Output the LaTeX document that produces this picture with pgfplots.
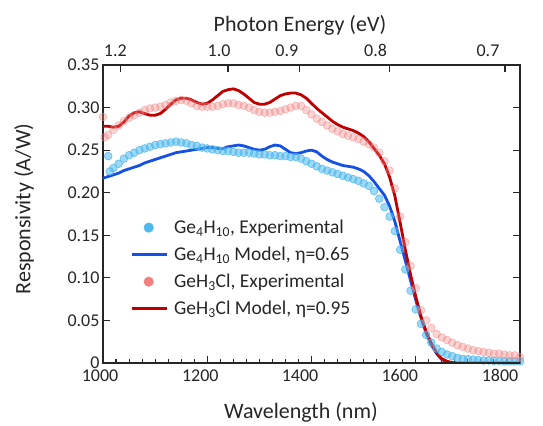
\documentclass[border=0pt]{standalone}
\usepackage{fontspec}
\setmainfont{Carlito}
\usepackage{pgfplots}
\pgfplotsset{compat=1.18}

\definecolor{expblue}{HTML}{4DB8EE}
\definecolor{modblue}{HTML}{1450E6}
\definecolor{exppink}{HTML}{F28080}
\definecolor{modred}{HTML}{C00000}
\definecolor{axisgray}{HTML}{262626}

% Measured responsivity, Ge4H10 sample
\pgfplotstableread{
x y
1010 0.243
1013 0.225
1020 0.229
1030 0.234
1040 0.240
1050 0.244
1060 0.247
1070 0.250
1080 0.252
1090 0.254
1100 0.256
1110 0.257
1120 0.258
1130 0.259
1140 0.260
1150 0.259
1160 0.258
1170 0.256
1180 0.255
1190 0.253
1200 0.252
1210 0.251
1220 0.250
1230 0.249
1240 0.249
1250 0.248
1260 0.247
1270 0.247
1280 0.247
1290 0.246
1300 0.245
1310 0.245
1320 0.244
1330 0.244
1340 0.243
1350 0.243
1360 0.242
1370 0.242
1380 0.240
1390 0.237
1400 0.234
1410 0.231
1420 0.228
1430 0.226
1440 0.224
1450 0.222
1460 0.220
1470 0.218
1480 0.216
1490 0.214
1500 0.211
1510 0.208
1520 0.202
1530 0.193
1540 0.183
1550 0.172
1560 0.155
1570 0.133
1580 0.110
1590 0.085
1600 0.063
1610 0.046
1620 0.033
1630 0.024
1640 0.017
1650 0.013
1660 0.010
1670 0.008
1680 0.006
1690 0.005
1700 0.0045
1710 0.004
1720 0.0035
1730 0.003
1740 0.003
1750 0.0025
1760 0.0025
1770 0.002
1780 0.002
1790 0.002
1800 0.002
}\geexp

% Model curve, Ge4H10, eta = 0.65
\pgfplotstableread{
x y
1000 0.217
1010 0.219
1020 0.221
1030 0.223
1040 0.226
1050 0.228
1060 0.230
1070 0.232
1080 0.235
1090 0.237
1100 0.239
1110 0.241
1120 0.243
1130 0.245
1140 0.247
1150 0.248
1160 0.249
1170 0.250
1180 0.251
1190 0.252
1200 0.253
1210 0.253
1220 0.252
1230 0.252
1240 0.254
1250 0.255
1260 0.256
1270 0.255
1280 0.253
1290 0.251
1300 0.250
1310 0.251
1320 0.254
1330 0.256
1340 0.255
1350 0.251
1360 0.247
1370 0.246
1380 0.247
1390 0.249
1400 0.250
1410 0.248
1420 0.243
1430 0.239
1440 0.236
1450 0.234
1460 0.232
1470 0.231
1480 0.230
1490 0.228
1500 0.225
1510 0.220
1520 0.213
1530 0.205
1540 0.197
1550 0.184
1560 0.166
1570 0.143
1580 0.120
1590 0.097
1600 0.074
1610 0.053
1620 0.035
1630 0.021
1640 0.011
1650 0.004
1660 0.001
1670 0
1800 0
}\gemodel

% Measured responsivity, GeH3Cl sample
\pgfplotstableread{
x y
1000 0.289
1003 0.265
1010 0.268
1020 0.274
1030 0.279
1040 0.284
1050 0.288
1060 0.291
1070 0.294
1080 0.297
1090 0.299
1100 0.300
1110 0.301
1120 0.303
1130 0.306
1140 0.308
1150 0.309
1160 0.308
1170 0.305
1180 0.302
1190 0.301
1200 0.301
1210 0.301
1220 0.302
1230 0.304
1240 0.305
1250 0.305
1260 0.303
1270 0.302
1280 0.300
1290 0.297
1300 0.295
1310 0.294
1320 0.294
1330 0.295
1340 0.296
1350 0.298
1360 0.300
1370 0.302
1380 0.302
1390 0.297
1400 0.292
1410 0.287
1420 0.283
1430 0.279
1440 0.275
1450 0.272
1460 0.269
1470 0.267
1480 0.265
1490 0.263
1500 0.260
1510 0.257
1520 0.253
1530 0.247
1540 0.237
1550 0.226
1560 0.205
1570 0.172
1580 0.142
1590 0.114
1600 0.088
1610 0.062
1620 0.050
1630 0.041
1640 0.034
1650 0.030
1660 0.027
1670 0.024
1680 0.021
1690 0.019
1700 0.017
1710 0.015
1720 0.014
1730 0.013
1740 0.012
1750 0.011
1760 0.011
1770 0.010
1780 0.009
1790 0.009
1800 0.007
}\clexp

% Model curve, GeH3Cl, eta = 0.95
\pgfplotstableread{
x y
1000 0.278
1010 0.278
1020 0.277
1030 0.278
1040 0.283
1050 0.290
1060 0.294
1070 0.295
1080 0.293
1090 0.291
1100 0.291
1110 0.293
1120 0.298
1130 0.304
1140 0.309
1150 0.311
1160 0.311
1170 0.309
1180 0.306
1190 0.304
1200 0.305
1210 0.309
1220 0.314
1230 0.319
1240 0.321
1250 0.322
1260 0.320
1270 0.316
1280 0.311
1290 0.306
1300 0.304
1310 0.304
1320 0.306
1330 0.310
1340 0.314
1350 0.316
1360 0.317
1370 0.317
1380 0.315
1390 0.311
1400 0.305
1410 0.299
1420 0.294
1430 0.289
1440 0.284
1450 0.280
1460 0.277
1470 0.275
1480 0.273
1490 0.270
1500 0.266
1510 0.260
1520 0.252
1530 0.244
1540 0.234
1550 0.218
1560 0.196
1570 0.165
1580 0.133
1590 0.104
1600 0.078
1610 0.055
1620 0.037
1630 0.023
1640 0.012
1650 0.005
1660 0.002
1670 0.0005
1680 0
1800 0
}\clmodel

% shift a tick label left by #1 without widening its box
\newcommand\tickleft[2]{\hspace*{-#1}#2\hspace*{#1}}

\pgfplotsset{
  frame/.style={
    width=417pt, height=298pt, scale only axis,
    xmin=1000, xmax=1800, ymin=0, ymax=0.35,
    enlargelimits=false,
    tick align=inside,
    major tick length=7pt, minor tick length=4pt,
    axis line style={line width=1.3pt, axisgray},
    every tick/.style={line width=1.1pt, axisgray},
    tick label style={font=\fontsize{18}{18}\selectfont, text=black!85},
    label style={font=\fontsize{22}{22}\selectfont, text=black!85, inner sep=0pt},
  },
}

\begin{document}
\begin{tikzpicture}
\begin{axis}[frame, name=main,
  xtick={1000,1200,1400,1600,1800},
  xticklabels={\tickleft{3pt}{1000},\tickleft{7pt}{1200},\tickleft{11.5pt}{1400},\tickleft{16pt}{1600},\tickleft{20pt}{1800}},
  xticklabel style={yshift=-3pt},
  minor x tick num=7, xtick pos=bottom,
  ytick={0,0.05,0.1,0.15,0.2,0.25,0.3,0.35},
  yticklabels={0,0.05,0.10,0.15,0.20,0.25,0.30,0.35},
  ytick pos=both, yticklabel pos=left,
  xlabel={Wavelength (nm)},
  ylabel={Responsivity (A/W)},
  xlabel style={at={(rel axis cs:0.4748,-0.1644)}, anchor=center},
  ylabel style={at={(rel axis cs:-0.1894,0.5168)}, anchor=center},
  legend cell align=left,
  legend style={draw=none, fill=none, inner sep=0pt,
    at={(rel axis cs:0.065,0.487)}, anchor=north west,
    font=\fontsize{19.5}{20}\selectfont, row sep=8pt,
    nodes={text=black!85}},
]
\addplot[only marks, mark=*, mark size=3.9pt,
  mark options={draw=expblue, fill=expblue, fill opacity=0.55, draw opacity=0.85, line width=0.6pt},
  legend image code/.code={\fill[expblue] (17pt,0pt) circle (4.8pt); \path (39pt,0pt);}]
  table {\geexp};
\addlegendentry{Ge\textsubscript{4}H\textsubscript{10}, Experimental}
\addplot[modblue, line width=2.8pt, line join=round,
  legend image code/.code={\draw[modblue, line width=2.8pt] (0pt,0pt) -- (35pt,0pt); \path (39pt,0pt);}]
  table {\gemodel};
\addlegendentry{Ge\textsubscript{4}H\textsubscript{10} Model, η=0.65}
\addplot[only marks, mark=*, mark size=3.9pt,
  mark options={draw=exppink, fill=exppink, fill opacity=0.35, draw opacity=0.5, line width=0.6pt},
  legend image code/.code={\fill[exppink] (17pt,0pt) circle (4.8pt); \path (39pt,0pt);}]
  table {\clexp};
\addlegendentry{GeH\textsubscript{3}Cl, Experimental}
\addplot[modred, line width=2.8pt, line join=round,
  legend image code/.code={\draw[modred, line width=2.8pt] (0pt,0pt) -- (35pt,0pt); \path (39pt,0pt);}]
  table {\clmodel};
\addlegendentry{GeH\textsubscript{3}Cl Model, η=0.95}
\end{axis}

% photon energy scale on the top edge, E = 1239.84/lambda
\begin{axis}[frame,
  hide y axis,
  xtick pos=top, xticklabel pos=top,
  xtick={1033.2,1239.84,1377.6,1549.8,1771.2},
  xticklabels={\tickleft{5pt}{1.2},\tickleft{9pt}{1.0},\tickleft{13pt}{0.9},\tickleft{14pt}{0.8},\tickleft{17pt}{0.7}},
  xticklabel style={yshift=5pt},
  xlabel={Photon Energy (eV)},
  xlabel style={at={(rel axis cs:0.4724,1.1342)}, anchor=center},
]
\addplot[draw=none] coordinates {(1000,0) (1800,0)};
\end{axis}

\path ([shift={(-103pt,-62pt)}]main.south west) rectangle ([shift={(23pt,65pt)}]main.north east);
\end{tikzpicture}
\end{document}
